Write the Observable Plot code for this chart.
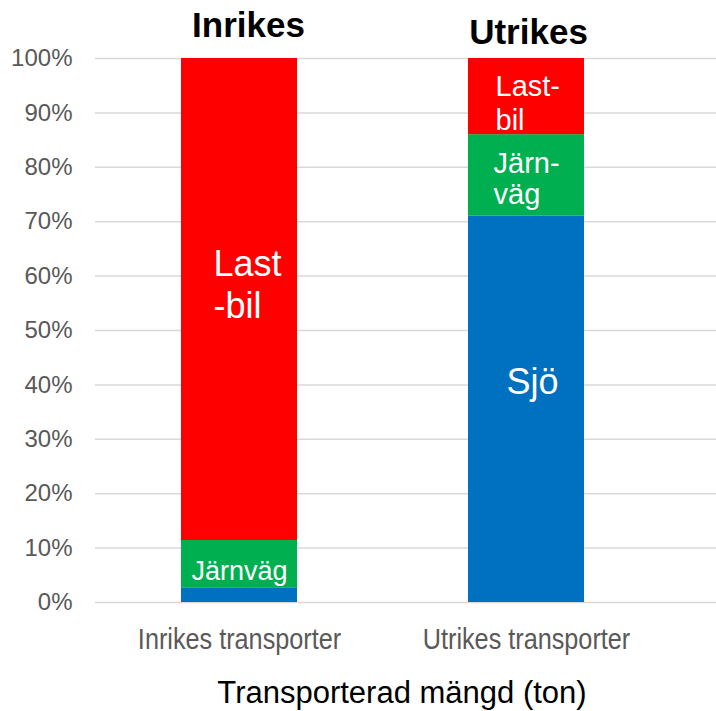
<!DOCTYPE html>
<html>
<head>
<meta charset="utf-8">
<script src="https://cdn.jsdelivr.net/npm/d3@7"></script>
<script src="https://cdn.jsdelivr.net/npm/@observablehq/plot@0.6"></script>
<style>
  body { margin: 0; background: #fff; }
</style>
</head>
<body>
<div id="chart"></div>
<script>
// ---- data ----
const categories = ["Inrikes transporter", "Utrikes transporter"];
const titles = ["Inrikes", "Utrikes"];
const modes = ["Sjö", "Järnväg", "Lastbil"];
const modeColors = ["#0070c0", "#00b050", "#ff0000"];
const inrikesShares = [2.6, 8.8, 88.6];   // % of tonnage
const utrikesShares = [71.0, 15.0, 14.0]; // % of tonnage
const inrikesLabels = ["", "Järnväg", "Last\n-bil"];
const utrikesLabels = ["Sjö", "Järn-\nväg", "Last-\nbil"];
const yTicks = [0, 10, 20, 30, 40, 50, 60, 70, 80, 90, 100];
const xTitle = "Transporterad mängd (ton)";

// ---- build table ----
const sharesByCat = [inrikesShares, utrikesShares];
const labelsByCat = [inrikesLabels, utrikesLabels];
const rows = [];
categories.forEach((cat, ci) => {
  let acc = 0;
  modes.forEach((mode, mi) => {
    const v = sharesByCat[ci][mi];
    rows.push({cat, mode, value: v, lo: acc, hi: acc + v, mid: acc + v / 2, label: labelsByCat[ci][mi]});
    acc += v;
  });
});

// label styling (keyed by category|mode)
const labelStyle = {
  "Inrikes transporter|Järnväg": {fontSize: 27, dx: 0, dy: -6, textAnchor: "middle", lineHeight: 1.1},
  "Inrikes transporter|Lastbil": {fontSize: 36, dx: -26, dy: -54, textAnchor: "start", lineHeight: 1.175},
  "Utrikes transporter|Sjö":     {fontSize: 36, dx: 6, dy: -44, textAnchor: "middle", lineHeight: 1.1},
  "Utrikes transporter|Järnväg": {fontSize: 29, dx: -33, dy: -25, textAnchor: "start", lineHeight: 1.086},
  "Utrikes transporter|Lastbil": {fontSize: 29, dx: -31, dy: -24, textAnchor: "start", lineHeight: 1.15}
};
const titleStyle = [
  {dx: 9, dy: -22},
  {dx: 2, dy: -15}
];

const FONT = "'Liberation Sans', Arial, Helvetica, sans-serif";

const labelMarks = rows.filter(r => r.label).map(r => {
  const s = labelStyle[r.cat + "|" + r.mode];
  return Plot.text([r], {
    x: "cat", y: "mid", text: "label",
    fill: "white", lineAnchor: "top", fontFamily: FONT,
    ...s
  });
});

const titleMarks = categories.map((cat, i) =>
  Plot.text([{cat, title: titles[i]}], {
    x: "cat", y: () => 100, text: "title",
    lineAnchor: "bottom", fontSize: 35, fontWeight: "bold", fill: "black",
    fontFamily: FONT, ...titleStyle[i]
  })
);

const chart = Plot.plot({
  width: 716,
  height: 711,
  marginTop: 58,
  marginBottom: 109,
  marginLeft: 95,
  marginRight: 0,
  style: {fontFamily: FONT, fontSize: "24px", background: "white", overflow: "visible"},
  x: {domain: categories, paddingInner: 0.597, paddingOuter: 0.38, align: 0.394, label: null},
  y: {domain: [0, 100], label: null},
  color: {domain: modes, range: modeColors},
  marks: [
    Plot.gridY({ticks: yTicks, stroke: "#d9d9d9", strokeOpacity: 1, strokeWidth: 1.5}),
    Plot.barY(rows, {x: "cat", y1: "lo", y2: "hi", fill: "mode"}),
    ...labelMarks,
    ...titleMarks,
    Plot.axisY({ticks: yTicks, tickFormat: d => d + "%", tickSize: 0, tickPadding: 23,
      fontSize: 24, fill: "#595959", label: null}),
    Plot.axisX({tickSize: 0, tickPadding: 26, fontSize: 29, fill: "#595959", label: null}),
    Plot.text([xTitle], {frameAnchor: "bottom", text: d => d, lineAnchor: "top",
      dy: 78, dx: -4, fontSize: 31, fill: "black", fontFamily: FONT})
  ]
});
// horizontally condense the category tick labels, as in the reference
d3.select(chart).selectAll('g[aria-label="x-axis tick label"] text').each(function () {
  const t = this.getAttribute("transform") || "";
  this.setAttribute("transform", (t + " scale(0.87,1)").trim());
});
document.getElementById("chart").appendChild(chart);
</script>
</body>
</html>
